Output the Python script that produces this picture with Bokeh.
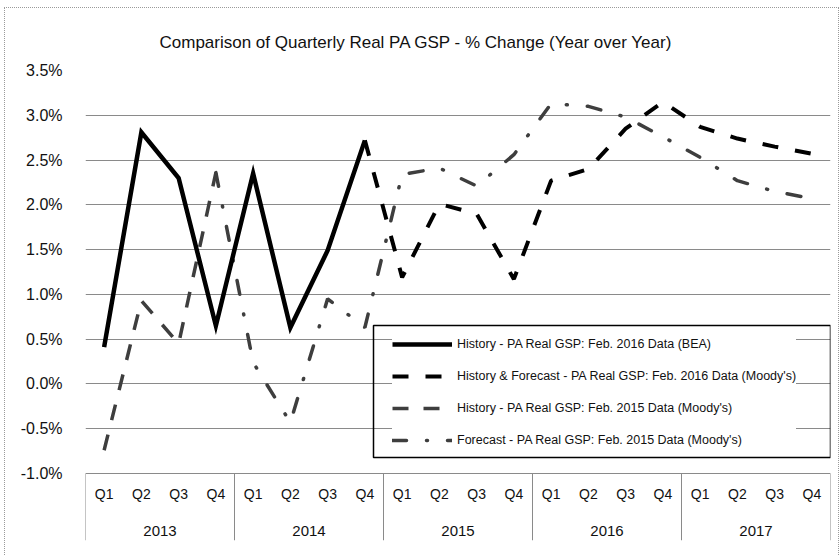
from bokeh.plotting import figure
from bokeh.models import Range1d, FixedTicker, PrintfTickFormatter, Legend, LegendItem, BoxAnnotation
from bokeh.core.properties import value
from bokeh.embed import file_html
from bokeh.resources import INLINE

# ---------------- data ----------------
years = ["2013", "2014", "2015", "2016", "2017"]
quarters = ["Q1", "Q2", "Q3", "Q4"]
y_ticks = [-1.0, -0.5, 0.0, 0.5, 1.0, 1.5, 2.0, 2.5, 3.0, 3.5]

title_text = "Comparison of Quarterly Real PA GSP - % Change (Year over Year)"

bea_label = "History - PA Real GSP: Feb. 2016 Data (BEA)"
bea_start = ("2013", "Q1")
bea_hist = [0.41, 2.81, 2.30, 0.65, 2.35, 0.63, 1.49, 2.72]

m16_label = "History & Forecast - PA Real GSP: Feb. 2016 Data (Moody's)"
m16_start = ("2014", "Q4")
m16_vals = [2.72, 1.19, 2.01, 1.90, 1.17, 2.27, 2.40, 2.85, 3.15, 2.87, 2.74, 2.65, 2.57]

m15h_label = "History - PA Real GSP: Feb. 2015 Data (Moody's)"
m15h_start = ("2013", "Q1")
m15h_vals = [-0.74, 0.93, 0.45, 2.36]

m15f_label = "Forecast - PA Real GSP: Feb. 2015 Data (Moody's)"
m15f_start = ("2013", "Q4")
m15f_vals = [2.36, 0.24, -0.43, 0.95, 0.63, 2.34, 2.41, 2.21, 2.56,
             3.13, 3.10, 2.98, 2.76, 2.53, 2.27, 2.15, 2.07]

# ---------------- helpers ----------------
periods = [(y, q) for y in years for q in quarters]
pos = {p: i for i, p in enumerate(periods)}


def xs(start, vals):
    s = pos[start]
    return list(range(s, s + len(vals)))


FONT = "Liberation Sans"
TXT = "#111111"

# layout (px)
FRAME_W = 745
FRAME_H = 470          # plot frame height (includes category box)
GRID_H = 403           # between -1.0% and 3.5%
n = len(periods)
px_y = GRID_H / (y_ticks[-1] - y_ticks[0])
px_x = FRAME_W / n
y_start = y_ticks[-1] - FRAME_H / px_y


def fx(dx):   # px from frame left -> data x
    return -0.5 + dx / px_x


def fy(dy):   # px from frame top -> data y
    return y_ticks[-1] - dy / px_y


p = figure(width=833, height=548, output_backend="svg", toolbar_location=None,
           x_range=Range1d(-0.5, n - 0.5), y_range=Range1d(y_start, y_ticks[-1]),
           x_axis_location=None, min_border_left=80, min_border_right=8,
           min_border_top=62, min_border_bottom=16)
p.margin = (8, 0, 0, 5)
p.styles = {"outline": "1px dotted #9a9a9a"}
p.outline_line_color = None
p.background_fill_color = "white"
p.border_fill_color = "white"

# title
p.title.text = title_text
p.title.align = "left"
p.title.offset = 74
p.title.text_font = FONT
p.title.text_font_size = "17px"
p.title.text_font_style = "normal"
p.title.text_color = TXT
p.title.standoff = 38

# y axis
p.yaxis.ticker = FixedTicker(ticks=y_ticks)
p.yaxis.formatter = PrintfTickFormatter(format="%.1f%%")
p.yaxis.axis_line_color = None
p.yaxis.major_tick_line_color = None
p.yaxis.minor_tick_line_color = None
p.yaxis.major_label_standoff = 17
p.yaxis.major_label_text_font = FONT
p.yaxis.major_label_text_font_size = "16px"
p.yaxis.major_label_text_color = TXT

p.xgrid.visible = False
p.ygrid.ticker = FixedTicker(ticks=y_ticks)
p.ygrid.grid_line_color = "#8a8a8a"
p.ygrid.grid_line_width = 1

# category box (quarters / years) drawn inside the extended frame
bounds = [pos[(y, quarters[0])] - 0.5 for y in years] + [n - 0.5]
p.segment(x0=bounds, y0=[y_ticks[0]] * len(bounds), x1=bounds, y1=[y_start] * len(bounds),
          line_color="#8a8a8a", line_width=1)
q_y = y_ticks[0] - 20 / px_y
yr_y = y_ticks[0] - 57 / px_y
p.text(x=list(range(n)), y=[q_y] * n, text=[q for (_, q) in periods],
       text_align="center", text_baseline="middle", text_font=value(FONT),
       text_font_size="14px", text_color=TXT)
yr_x = [pos[(y, quarters[0])] + (len(quarters) - 1) / 2 for y in years]
p.text(x=yr_x, y=[yr_y] * len(years), text=years,
       text_align="center", text_baseline="middle", text_font=value(FONT),
       text_font_size="15px", text_color=TXT)

# series
r_m15f = p.line(xs(m15f_start, m15f_vals), m15f_vals, line_color="#3e3e3e", line_width=3.5,
                line_dash="14 20 1 20", line_cap="round")
r_m15h = p.line(xs(m15h_start, m15h_vals), m15h_vals, line_color="#3e3e3e", line_width=3.5,
                line_dash="16 15")
r_m16 = p.line(xs(m16_start, m16_vals), m16_vals, line_color="black", line_width=4,
               line_dash="16 17")
r_bea = p.line(xs(bea_start, bea_hist), bea_hist, line_color="black", line_width=4.5,
               line_join="miter")

# legend (items; its frame is drawn separately so the left margin can be wider)
legend = Legend(items=[LegendItem(label=bea_label, renderers=[r_bea]),
                       LegendItem(label=m16_label, renderers=[r_m16]),
                       LegendItem(label=m15h_label, renderers=[r_m15h]),
                       LegendItem(label=m15f_label, renderers=[r_m15f])],
                location=(307, 92), label_text_font=FONT, label_text_font_size="12.5px",
                label_text_color=TXT, glyph_width=60, glyph_height=16, label_standoff=5,
                spacing=16, padding=10, margin=0, border_line_color=None,
                background_fill_color="white", background_fill_alpha=1)
p.add_layout(legend)
legend_box = BoxAnnotation(left=fx(288), right=fx(745), top=fy(255), bottom=fy(387),
                           fill_alpha=0, line_color="black", line_width=1.5, line_alpha=1)
p.add_layout(legend_box)

open("out.html", "w").write(file_html(p, INLINE))
